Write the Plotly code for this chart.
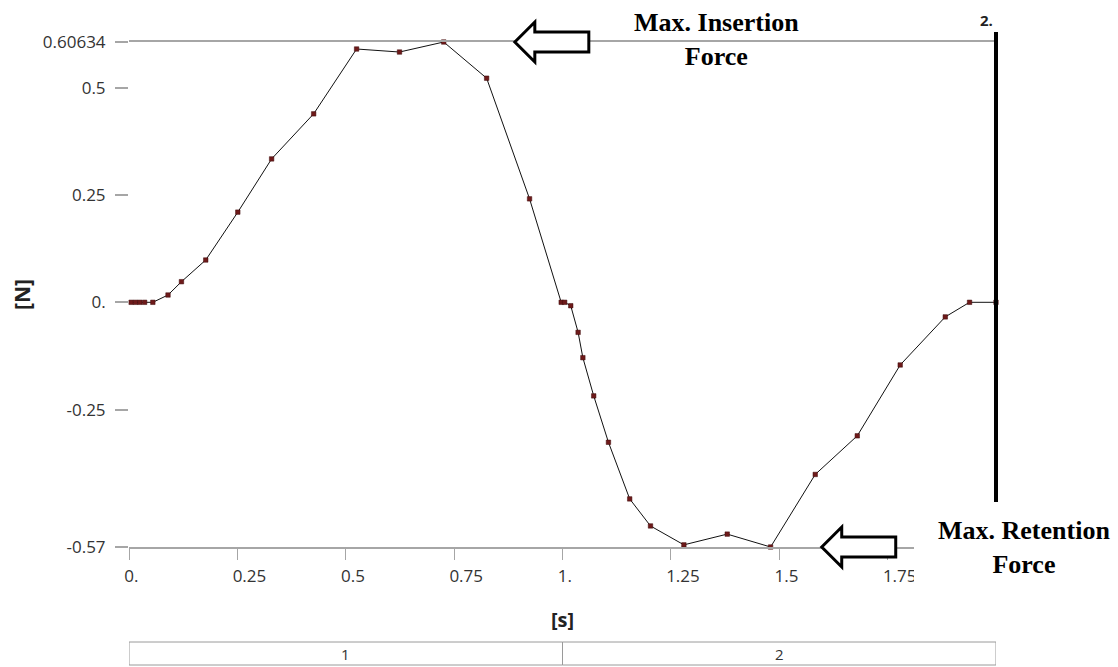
import plotly.graph_objects as go

# ---------------- data ----------------
time_s = [0.005, 0.015, 0.025, 0.036, 0.055, 0.090, 0.121, 0.177, 0.251, 0.329,
          0.426, 0.525, 0.624, 0.726, 0.825, 0.924, 0.997, 1.005, 1.019, 1.036,
          1.047, 1.072, 1.106, 1.155, 1.203, 1.280, 1.380, 1.480, 1.583, 1.680,
          1.779, 1.883, 1.939, 2.000]
force_N = [0.0, 0.0, 0.0, 0.0, 0.0, 0.017, 0.048, 0.0985, 0.210, 0.334,
           0.439, 0.590, 0.583, 0.60634, 0.522, 0.241, 0.0, 0.0, -0.008, -0.070,
           -0.129, -0.218, -0.326, -0.458, -0.521, -0.565, -0.540, -0.570, -0.401, -0.311,
           -0.146, -0.034, 0.0, 0.0]

x_tickvals = [0, 0.25, 0.5, 0.75, 1.0, 1.25, 1.5, 1.75]
x_ticktext = ["0.", "0.25", "0.5", "0.75", "1.", "1.25", "1.5", "1.75"]
y_tickvals = [-0.57, -0.25, 0.0, 0.25, 0.5, 0.60634]
y_ticktext = ["-0.57", "-0.25", "0.", "0.25", "0.5", "0.60634"]

step_names = ["1", "2"]
step_start = [0.0, 1.0]
step_end = [1.0, 2.0]

y_min, y_max = -0.57, 0.60634
t_end = 2.0
insertion_arrow_t = 0.89     # arrow tip, at max force
retention_arrow_t = 1.598    # arrow tip, at min force
insertion_label_t = 1.356
retention_label_t = 2.064

# ---------------- layout geometry ----------------
W, H = 1118, 667
ML, MR, MT, MB = 129, 122, 42, 120
PW, PH = W - ML - MR, H - MT - MB


def py2paper(py):
    return (H - MB - py) / PH


def px2paper(px):
    return (px - ML) / PW


def t2paper(t):
    return t / t_end


GRAY = "#a6a6a6"
TXT = "#333333"
SANS = "Open Sans, DejaVu Sans, sans-serif"
SERIF = "Liberation Serif, Times New Roman, serif"

fig = go.Figure()
fig.add_trace(go.Scatter(
    x=time_s, y=force_N, mode="lines+markers",
    line=dict(color="#111111", width=1),
    marker=dict(symbol="square", size=4.5, color="#6e1a1a",
                line=dict(color="#3e0c0c", width=0.5)),
    cliponaxis=False, showlegend=False, hoverinfo="x+y"))

arrow_path = "M0,0 L20,20 L20,10 L74,10 L74,-10 L20,-10 L20,-20 Z"
shapes = [
    # time marker line at t = 2
    dict(type="line", xref="paper", yref="paper", x0=t2paper(t_end), x1=t2paper(t_end),
         y0=py2paper(502), y1=py2paper(32), line=dict(color="black", width=4),
         layer="above"),
    # white box behind lower note (covers part of the axis, as in the source)
    dict(type="rect", xref="paper", yref="paper", x0=px2paper(914), x1=px2paper(1118),
         y0=py2paper(600), y1=py2paper(517), fillcolor="white",
         line=dict(width=0), layer="above"),
    # hollow arrows
    dict(type="path", xref="x", yref="paper", xsizemode="pixel", ysizemode="pixel",
         xanchor=insertion_arrow_t, yanchor=1, path=arrow_path,
         fillcolor="white", line=dict(color="black", width=3), layer="above"),
    dict(type="path", xref="x", yref="paper", xsizemode="pixel", ysizemode="pixel",
         xanchor=retention_arrow_t, yanchor=0, path=arrow_path,
         fillcolor="white", line=dict(color="black", width=3), layer="above"),
]
# step bar below the chart
for s0, s1 in zip(step_start, step_end):
    shapes.append(dict(type="rect", xref="x", yref="paper", x0=s0, x1=s1,
                       y0=py2paper(665), y1=py2paper(642),
                       fillcolor="white", line=dict(color="#9a9a9a", width=1)))

annotations = [
    dict(text="<b>Max. Insertion<br>Force</b>", xref="paper", yref="paper",
         x=t2paper(insertion_label_t), y=py2paper(39.5), xanchor="center", yanchor="middle",
         showarrow=False, font=dict(family=SERIF, size=26, color="black")),
    dict(text="<b>Max. Retention<br>Force</b>", xref="paper", yref="paper",
         x=t2paper(retention_label_t), y=py2paper(547), xanchor="center", yanchor="middle",
         showarrow=False, font=dict(family=SERIF, size=26, color="black")),
    dict(text="<b>2.</b>", xref="paper", yref="paper", x=t2paper(t_end), y=py2paper(20),
         xanchor="right", yanchor="middle", xshift=-1, showarrow=False,
         font=dict(family=SANS, size=15, color="#222222")),
    # x-axis title
    dict(text="<b>[s]</b>", xref="paper", yref="paper", x=0.5, y=py2paper(619),
         xanchor="center", yanchor="middle", showarrow=False,
         font=dict(family=SANS, size=20, color="#222222")),
]
for name, s0, s1 in zip(step_names, step_start, step_end):
    annotations.append(dict(text=name, xref="x", yref="paper", x=(s0 + s1) / 2,
                            y=py2paper(653.5), xanchor="center", yanchor="middle",
                            showarrow=False, font=dict(family=SANS, size=15, color=TXT)))

fig.update_layout(
    width=W, height=H, autosize=False,
    margin=dict(l=ML, r=MR, t=MT, b=MB, pad=0),
    paper_bgcolor="white", plot_bgcolor="white",
    font=dict(family=SANS, size=17, color=TXT),
    shapes=shapes, annotations=annotations,
    xaxis=dict(range=[0, t_end], tickvals=x_tickvals, ticktext=x_ticktext,
               ticks="outside", ticklen=11, tickwidth=1, tickcolor=GRAY,
               ticklabelposition="outside right", ticklabelshift=-6,
               ticklabelstandoff=13,
               showline=True, linecolor=GRAY, linewidth=1.5, mirror=True,
               showgrid=False, zeroline=False,
               tickfont=dict(family=SANS, size=17, color=TXT)),
    yaxis=dict(range=[y_min, y_max], tickvals=y_tickvals, ticktext=y_ticktext,
               ticks="outside", ticklen=13, tickwidth=1.5, tickcolor=GRAY,
               ticklabelstandoff=6,
               showline=False, showgrid=False, zeroline=False,
               tickfont=dict(family=SANS, size=17, color=TXT),
               title=dict(text="<b>[N]</b>", standoff=6,
                          font=dict(family=SANS, size=21, color="#222222"))),
)

fig.write_html("out.html", config={"displayModeBar": False},
               post_script="document.body.style.margin='0';document.body.style.overflow='hidden';")
